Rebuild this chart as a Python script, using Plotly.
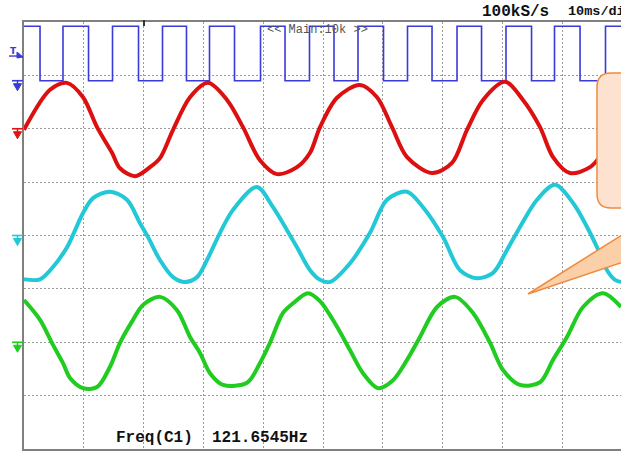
import plotly.graph_objects as go

# ---------------- data (time in ms, amplitude in screen divisions, 0 = centre) -------------
x_range_ms = [0, 99.83]          # 10 ms/div, right edge cropped
y_range_div = [-4, 4]

# CH1 (blue) square wave: edge times
ch1_fall_ms = [2.68, 10.79, 19.15, 27.17, 35.20, 43.65, 51.84, 60.12, 68.23, 76.51, 84.87, 92.98]
ch1_rise_ms = [6.52, 14.80, 23.16, 31.02, 39.55, 47.74, 55.85, 64.13, 72.41, 80.60, 88.71, 97.24]
ch1_high_div = 3.92
ch1_low_div = 2.90

# CH2 (red)
ch2_t = [0.00, 4.35, 7.19, 9.87, 12.21, 14.72, 16.05, 18.56, 21.07, 22.74, 24.92, 27.76, 30.77,
         33.95, 36.62, 39.46, 42.31, 45.65, 47.83, 49.50, 52.34, 56.19, 59.03, 61.54, 64.05,
         68.23, 71.57, 74.08, 76.76, 80.43, 83.44, 86.29, 88.46, 91.30, 94.65, 97.16, 99.83]
ch2_v = [1.98, 2.73, 2.86, 2.59, 2.03, 1.55, 1.26, 1.11, 1.28, 1.45, 1.98, 2.59, 2.86,
         2.54, 2.03, 1.41, 1.15, 1.28, 1.55, 2.03, 2.58, 2.82, 2.59, 2.03, 1.47,
         1.17, 1.36, 1.98, 2.54, 2.88, 2.54, 2.03, 1.47, 1.17, 1.28, 1.60, 2.07]

# CH3 (cyan)
ch3_t = [0.00, 2.68, 4.85, 7.19, 8.19, 9.87, 11.54, 14.38, 17.22, 19.40, 20.74, 22.74, 24.92,
         26.92, 28.93, 30.60, 32.78, 34.95, 38.96, 41.64, 43.98, 45.65, 47.83, 49.50, 51.17,
         54.52, 57.86, 60.70, 64.05, 66.72, 70.07, 72.91, 75.75, 78.43, 80.77, 82.94, 85.79,
         88.80, 91.81, 94.15, 95.82, 97.49, 98.83, 99.83]
ch3_v = [-0.82, -0.82, -0.59, -0.22, 0.01, 0.42, 0.70, 0.82, 0.67, 0.23, -0.03, -0.46, -0.78,
         -0.87, -0.78, -0.46, 0.05, 0.48, 0.91, 0.53, 0.10, -0.22, -0.65, -0.83, -0.87,
         -0.52, 0.05, 0.67, 0.82, 0.53, -0.03, -0.65, -0.80, -0.70, -0.27, 0.16, 0.67,
         0.95, 0.61, 0.16, -0.22, -0.65, -0.83, -0.87]

# CH4 (green)
ch4_t = [0.00, 2.68, 4.85, 6.52, 7.69, 9.87, 12.21, 14.38, 16.05, 18.23, 19.90, 22.74, 25.59,
         27.76, 29.43, 31.10, 33.28, 37.29, 39.46, 41.14, 43.31, 44.98, 47.49, 49.50, 52.34,
         54.52, 56.69, 59.20, 61.71, 64.05, 66.22, 69.06, 72.07, 75.08, 77.93, 80.10, 82.94,
         86.29, 88.46, 90.80, 93.48, 96.82, 99.83]
ch4_v = [-1.21, -1.58, -2.05, -2.39, -2.67, -2.86, -2.84, -2.46, -2.01, -1.58, -1.30, -1.15, -1.40,
         -1.90, -2.20, -2.58, -2.80, -2.76, -2.39, -2.01, -1.45, -1.27, -1.08, -1.23, -1.71,
         -2.15, -2.58, -2.86, -2.71, -2.33, -1.90, -1.34, -1.15, -1.45, -2.01, -2.52, -2.80,
         -2.75, -2.33, -1.90, -1.34, -1.08, -1.34]

# ground-level markers on the left edge (divisions)
gnd_levels = [2.90, 2.00, 0.00, -2.00]
gnd_colors = ["#3a3ad8", "#e01212", "#22c8d6", "#22cc22"]
trig_level = 3.40

top_labels = ["100kS/s", "10ms/div"]
center_label = "<< Main:10k >>"
freq_label = "Freq(C1)  121.6545Hz"

# ---------------- build figure -------------
W, H = 621, 452
L, R, T, B = 24, 0, 22, 3
pw, ph = W - L - R, H - T - B


def px(xp):  # pixel -> paper x
    return (xp - L) / pw


def py(yp):  # pixel -> paper y
    return (H - B - yp) / ph


div_per_px = (y_range_div[1] - y_range_div[0]) / ph

# square wave
edges = sorted([(t, ch1_low_div) for t in ch1_fall_ms] + [(t, ch1_high_div) for t in ch1_rise_ms])
sq_t = [x_range_ms[0]] + [e[0] for e in edges] + [x_range_ms[1]]
sq_v = [ch1_high_div] + [e[1] for e in edges] + [edges[-1][1]]

fig = go.Figure()
fig.add_trace(go.Scatter(x=sq_t, y=sq_v, mode="lines", line=dict(color="#3a3ad8", width=1.6, shape="hv"),
                         hoverinfo="skip"))
for t, v, c in [(ch2_t, ch2_v, "#dc1010"), (ch3_t, ch3_v, "#22c8d6"), (ch4_t, ch4_v, "#1fcc1f")]:
    fig.add_trace(go.Scatter(x=t, y=v, mode="lines", line=dict(color=c, width=4, shape="spline", smoothing=0.9),
                             hoverinfo="skip"))

# ground markers (left margin): bar + stem + down triangle, positioned on the y axis
for g, c in zip(gnd_levels, gnd_colors):
    fig.add_shape(type="line", xref="paper", yref="y", x0=px(12), x1=px(23), y0=g, y1=g,
                  line=dict(color=c, width=1.6))
    fig.add_shape(type="line", xref="paper", yref="y", x0=px(17.5), x1=px(17.5), y0=g, y1=g - 4 * div_per_px,
                  line=dict(color=c, width=1.5))
    tri = "M %f,%f L %f,%f L %f,%f Z" % (px(13.5), g - 3 * div_per_px, px(21.5), g - 3 * div_per_px,
                                         px(17.5), g - 10 * div_per_px)
    fig.add_shape(type="path", xref="paper", yref="y", path=tri, fillcolor=c, line=dict(color=c, width=1))

# trigger marker: "T" with underline arrow
fig.add_annotation(x=px(13), y=trig_level + 3 * div_per_px, xref="paper", yref="y", text="<b>T</b>",
                   showarrow=False, font=dict(family="DejaVu Sans", size=9, color="#3a3ad8"),
                   xanchor="center", yanchor="middle")
fig.add_shape(type="line", xref="paper", yref="y", x0=px(9), x1=px(19), y0=trig_level - 2 * div_per_px,
              y1=trig_level - 2 * div_per_px, line=dict(color="#3a3ad8", width=1.4))
tri = "M %f,%f L %f,%f L %f,%f Z" % (px(17), trig_level + 2 * div_per_px, px(17), trig_level - 4 * div_per_px,
                                     px(23), trig_level - 3 * div_per_px)
fig.add_shape(type="path", xref="paper", yref="y", path=tri, fillcolor="#3a3ad8", line=dict(color="#3a3ad8", width=1))

mono = "Liberation Mono"
fig.add_annotation(x=px(480), y=py(12), xref="paper", yref="paper", text="<b>%s</b>" % top_labels[0],
                   showarrow=False, xanchor="left", yanchor="middle", font=dict(family=mono, size=16, color="#111"))
fig.add_annotation(x=px(566), y=py(12), xref="paper", yref="paper", text="<b>%s</b>" % top_labels[1],
                   showarrow=False, xanchor="left", yanchor="middle", font=dict(family=mono, size=13.5, color="#111"))
fig.add_annotation(x=px(265), y=py(30), xref="paper", yref="paper", text=center_label,
                   showarrow=False, xanchor="left", yanchor="middle", font=dict(family=mono, size=12, color="#555"))
fig.add_annotation(x=px(114), y=py(438), xref="paper", yref="paper", text="<b>%s</b>" % freq_label,
                   showarrow=False, xanchor="left", yanchor="middle", font=dict(family=mono, size=16, color="#111"))

# trigger-position tick on the top edge
fig.add_shape(type="line", xref="paper", yref="paper", x0=px(144), x1=px(144), y0=py(20), y1=py(26),
              line=dict(color="#333", width=2))

# callout (tail + rounded box), mostly outside the window on the right
tail = "M %f,%f L %f,%f L %f,%f Z" % (px(528), py(294), px(668), py(206), px(790), py(206))
fig.add_shape(type="path", path=tail, xref="paper", yref="paper", fillcolor="#fbcfa8",
              line=dict(color="#f08a3c", width=1.5), layer="above")
x0, x1, yt, yb, r = 597, 760, 73, 208, 14
rx, ry = r / pw, r / ph
X0, X1, YT, YB = px(x0), px(x1), py(yt), py(yb)
box = ("M %f,%f L %f,%f Q %f,%f %f,%f L %f,%f Q %f,%f %f,%f L %f,%f Q %f,%f %f,%f L %f,%f Q %f,%f %f,%f Z" %
       (X0 + rx, YT, X1 - rx, YT, X1, YT, X1, YT - ry, X1, YB + ry, X1, YB, X1 - rx, YB,
        X0 + rx, YB, X0, YB, X0, YB + ry, X0, YT - ry, X0, YT, X0 + rx, YT))
fig.add_shape(type="path", path=box, xref="paper", yref="paper", fillcolor="#fde3cf",
              line=dict(color="#f08a3c", width=1.5), layer="above")

grid = dict(showgrid=True, gridcolor="#9a9a9a", gridwidth=1, griddash="2px,2px", zeroline=False,
            showticklabels=False, ticks="", showline=True, linecolor="#808080", linewidth=2, automargin=False)
fig.update_xaxes(range=x_range_ms, dtick=10, tick0=0, mirror=True, **grid)
fig.update_yaxes(range=y_range_div, dtick=1, tick0=0, mirror=False, **grid)

fig.update_layout(width=W, height=H, margin=dict(l=L, r=R, t=T, b=B, autoexpand=False), showlegend=False,
                  paper_bgcolor="white", plot_bgcolor="white")
fig.write_html("out.html", config={"displayModeBar": False},
               post_script="document.body.style.margin='0';document.body.style.overflow='hidden';")
